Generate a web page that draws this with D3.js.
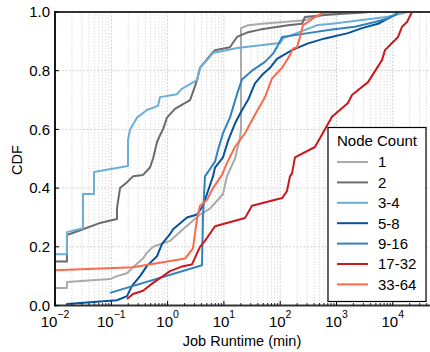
<!DOCTYPE html>
<html>
<head>
<meta charset="utf-8">
<script src="https://cdn.jsdelivr.net/npm/d3@7"></script>
<style>
  body { margin: 0; background: #fff; }
  text { font-family: "Liberation Sans", Arial, sans-serif; fill: #000; }
</style>
</head>
<body>
<div id="vis"></div>
<script>
// node-count groups, legend order
const groups = ["1", "2", "3-4", "5-8", "9-16", "17-32", "33-64"];
const colors = ["#aaaaaa", "#6b6b6b", "#6baed6", "#08519c", "#3182bd", "#cb181d", "#fb6a4a"];

// runtimes (min) and cdf per group
const rt1 = [0.01, 0.0163, 0.0163, 0.095, 0.126, 0.19, 0.243, 0.366, 0.43, 0.551, 1.1, 1.88, 3.76, 5.66, 9.64, 11.3, 15.7, 19.3, 20.1, 20.1, 26.8, 47.5, 275, 415, 706, 3936];
const cdf1 = [0.06, 0.06, 0.08, 0.09, 0.10, 0.11, 0.13, 0.16, 0.18, 0.20, 0.22, 0.26, 0.31, 0.33, 0.38, 0.44, 0.50, 0.57, 0.60, 0.945, 0.955, 0.96, 0.972, 0.983, 0.995, 1.0];

const rt2 = [0.01, 0.0163, 0.0163, 0.0314, 0.06, 0.126, 0.126, 0.143, 0.19, 0.243, 0.366, 0.486, 0.551, 0.649, 0.733, 0.828, 0.975, 1.35, 2.5, 2.82, 3.33, 3.76, 4.61, 6.15, 6.95, 12.8, 17.1, 25.7, 43.8, 138, 244, 275, 625, 3936];
const cdf2 = [0.15, 0.15, 0.24, 0.26, 0.28, 0.295, 0.33, 0.40, 0.42, 0.44, 0.445, 0.47, 0.50, 0.557, 0.58, 0.60, 0.64, 0.67, 0.70, 0.727, 0.768, 0.81, 0.83, 0.86, 0.87, 0.88, 0.915, 0.93, 0.94, 0.955, 0.96, 0.983, 0.99, 1.0];

const rt34 = [0.01, 0.0163, 0.0163, 0.0314, 0.0314, 0.0493, 0.0493, 0.198, 0.198, 0.215, 0.286, 0.43, 0.675, 0.733, 1.47, 1.75, 3.33, 3.76, 5.01, 6.4, 17.1, 99, 112, 469, 832, 2838, 8220, 18600];
const cdf34 = [0.175, 0.175, 0.25, 0.263, 0.38, 0.38, 0.455, 0.475, 0.564, 0.60, 0.64, 0.666, 0.68, 0.71, 0.72, 0.737, 0.768, 0.81, 0.836, 0.86, 0.877, 0.894, 0.91, 0.956, 0.96, 0.973, 0.984, 1.0];

const rt58 = [0.0163, 0.0163, 0.126, 0.19, 0.233, 0.324, 0.43, 0.649, 0.796, 1.1, 1.25, 2.21, 3.33, 4.25, 5.01, 6.4, 6.95, 9.64, 11.8, 15.7, 20.9, 26.8, 35.6, 47.5, 65.9, 87.7, 162, 312, 625, 1600, 2838, 5460, 10900, 12400];
const cdf58 = [0.0, 0.005, 0.018, 0.032, 0.067, 0.10, 0.135, 0.168, 0.21, 0.243, 0.26, 0.30, 0.31, 0.34, 0.38, 0.44, 0.47, 0.505, 0.56, 0.62, 0.665, 0.70, 0.757, 0.785, 0.81, 0.84, 0.87, 0.893, 0.91, 0.928, 0.945, 0.96, 0.99, 1.0];

const rt916 = [0.0948, 4.08, 4.25, 4.61, 6.95, 7.85, 9.64, 12.8, 17.1, 20.9, 31.6, 53.7, 74.5, 91.4, 108, 312, 832, 2133, 4830, 8220, 12400];
const cdf916 = [0.043, 0.137, 0.30, 0.44, 0.49, 0.53, 0.587, 0.64, 0.72, 0.77, 0.80, 0.83, 0.858, 0.887, 0.915, 0.928, 0.94, 0.95, 0.966, 0.978, 0.996];

const rt1732 = [0.19, 0.243, 0.366, 0.551, 0.828, 1.1, 1.88, 2.71, 3.76, 4.61, 6.95, 23.7, 31.6, 108, 132, 149, 162, 183, 415, 832, 1600, 1884, 3630, 6430, 7260, 12400, 14600, 17900, 21900];
const cdf1732 = [0.022, 0.039, 0.05, 0.077, 0.10, 0.117, 0.134, 0.14, 0.20, 0.22, 0.27, 0.298, 0.34, 0.366, 0.39, 0.44, 0.45, 0.505, 0.54, 0.643, 0.69, 0.717, 0.761, 0.836, 0.87, 0.915, 0.95, 0.966, 1.0];

const rt3364 = [0.01, 0.243, 2.04, 2.82, 3.33, 3.76, 5.01, 6.4, 9.25, 11.3, 15.7, 23.7, 35.6, 53.7, 71.5, 108, 149, 169, 199, 225, 254, 312, 415, 625];
const cdf3364 = [0.12, 0.13, 0.16, 0.195, 0.295, 0.34, 0.36, 0.40, 0.445, 0.485, 0.54, 0.587, 0.65, 0.71, 0.774, 0.81, 0.853, 0.876, 0.88, 0.915, 0.955, 0.966, 0.983, 1.0];

const runtimes = [rt1, rt2, rt34, rt58, rt916, rt1732, rt3364];
const cdfs = [cdf1, cdf2, cdf34, cdf58, cdf916, cdf1732, cdf3364];

const xTicks = [1e-2, 1e-1, 1, 1e1, 1e2, 1e3, 1e4];
const xExps = ["\u22122", "\u22121", "0", "1", "2", "3", "4"];
const yTicks = [0, 0.2, 0.4, 0.6, 0.8, 1.0];

const W = 430, H = 352;
const L = 55, T = 12, B = 305.5;
const R = L + 6.7 * 56.3;

const svg = d3.select("#vis").append("svg")
	.attr("width", W)
	.attr("height", H);

const x = d3.scaleLog().domain([1e-2, Math.pow(10, 4.7)]).range([L, R]);
const y = d3.scaleLinear().domain([0, 1]).range([B, T]);

svg.append("clipPath").attr("id", "clip")
	.append("rect").attr("x", L).attr("y", T - 1).attr("width", R - L).attr("height", B - T + 2);

// grid
const minors = [];
for (let e = -2; e < 5; e++) {
	for (let m = 2; m <= 9; m++) {
		const v = m * Math.pow(10, e);
		if (v < x.domain()[1]) minors.push(v);
	}
}
const grid = svg.append("g");
grid.selectAll(".gxm")
	.data(minors)
	.enter()
	.append("line")
	.attr("x1", d => x(d)).attr("x2", d => x(d))
	.attr("y1", T).attr("y2", B)
	.attr("stroke", "#d4d4d4")
	.attr("stroke-width", 0.8)
	.attr("stroke-dasharray", "1.5,1.5");
grid.selectAll(".gx")
	.data(xTicks)
	.enter()
	.append("line")
	.attr("x1", d => x(d)).attr("x2", d => x(d))
	.attr("y1", T).attr("y2", B)
	.attr("stroke", "#c8c8c8")
	.attr("stroke-width", 0.9)
	.attr("stroke-dasharray", "2,1.5");
grid.selectAll(".gy")
	.data(yTicks.slice(1, 5))
	.enter()
	.append("line")
	.attr("x1", L).attr("x2", W)
	.attr("y1", d => y(d)).attr("y2", d => y(d))
	.attr("stroke", "#cfcfcf")
	.attr("stroke-width", 0.9)
	.attr("stroke-dasharray", "2,1.5");

// cdf lines
const line = d3.line()
	.x(d => x(d[0]))
	.y(d => y(d[1]));

svg.append("g")
	.attr("clip-path", "url(#clip)")
	.selectAll("path")
	.data(groups.map((g, i) => runtimes[i].map((r, j) => [r, cdfs[i][j]])))
	.enter()
	.append("path")
	.attr("d", d => line(d))
	.attr("fill", "none")
	.attr("stroke", (d, i) => colors[i])
	.attr("stroke-width", 2)
	.attr("stroke-linejoin", "round");

// spines
svg.append("line").attr("x1", L).attr("x2", W).attr("y1", T).attr("y2", T)
	.attr("stroke", "#333").attr("stroke-width", 1.8);
svg.append("line").attr("x1", L).attr("x2", L).attr("y1", T - 0.9).attr("y2", B + 0.9)
	.attr("stroke", "#000").attr("stroke-width", 1.8);
svg.append("line").attr("x1", L).attr("x2", W).attr("y1", B).attr("y2", B)
	.attr("stroke", "#333").attr("stroke-width", 1.8);

// x ticks (inward)
svg.selectAll(".xmt")
	.data(minors)
	.enter()
	.append("line")
	.attr("x1", d => x(d)).attr("x2", d => x(d))
	.attr("y1", B).attr("y2", B - 2.5)
	.attr("stroke", "#000").attr("stroke-width", 0.8);
svg.selectAll(".xt")
	.data(xTicks)
	.enter()
	.append("line")
	.attr("x1", d => x(d)).attr("x2", d => x(d))
	.attr("y1", B).attr("y2", B - 4.5)
	.attr("stroke", "#000").attr("stroke-width", 1);

const xl = svg.selectAll(".xl")
	.data(xTicks)
	.enter()
	.append("text")
	.attr("x", d => x(d))
	.attr("y", 327)
	.attr("text-anchor", "middle")
	.style("font-size", "15px");
xl.append("tspan").text("10");
xl.append("tspan")
	.attr("dy", -9)
	.style("font-size", "10.5px")
	.text((d, i) => xExps[i]);

// y ticks
svg.selectAll(".yt")
	.data(yTicks)
	.enter()
	.append("line")
	.attr("x1", L).attr("x2", L + 4)
	.attr("y1", d => y(d)).attr("y2", d => y(d))
	.attr("stroke", "#000").attr("stroke-width", 1);
svg.selectAll(".yl")
	.data(yTicks)
	.enter()
	.append("text")
	.attr("x", 50)
	.attr("y", d => y(d) + 5.3)
	.attr("text-anchor", "end")
	.style("font-size", "15px")
	.text(d => d3.format(".1f")(d));

// axis titles
svg.append("text")
	.attr("x", 242).attr("y", 346)
	.attr("text-anchor", "middle")
	.style("font-size", "14.5px")
	.text("Job Runtime (min)");
svg.append("text")
	.attr("transform", "translate(22,160) rotate(-90)")
	.attr("text-anchor", "middle")
	.style("font-size", "14.5px")
	.text("CDF");

// legend
const lg = svg.append("g");
lg.append("rect")
	.attr("x", 328).attr("y", 127.5)
	.attr("width", 98).attr("height", 174)
	.attr("fill", "#fff")
	.attr("stroke", "#000")
	.attr("stroke-width", 1.2);
lg.append("text")
	.attr("x", 377).attr("y", 146)
	.attr("text-anchor", "middle")
	.style("font-size", "15px")
	.text("Node Count");
const items = lg.selectAll(".li")
	.data(groups)
	.enter()
	.append("g")
	.attr("transform", (d, i) => `translate(0,${162 + i * 20.4})`);
items.append("line")
	.attr("x1", 337).attr("x2", 368)
	.attr("y1", 0).attr("y2", 0)
	.attr("stroke", (d, i) => colors[i])
	.attr("stroke-width", 2);
items.append("text")
	.attr("x", 378).attr("y", 5.3)
	.style("font-size", "15px")
	.text(d => d);
</script>
</body>
</html>
